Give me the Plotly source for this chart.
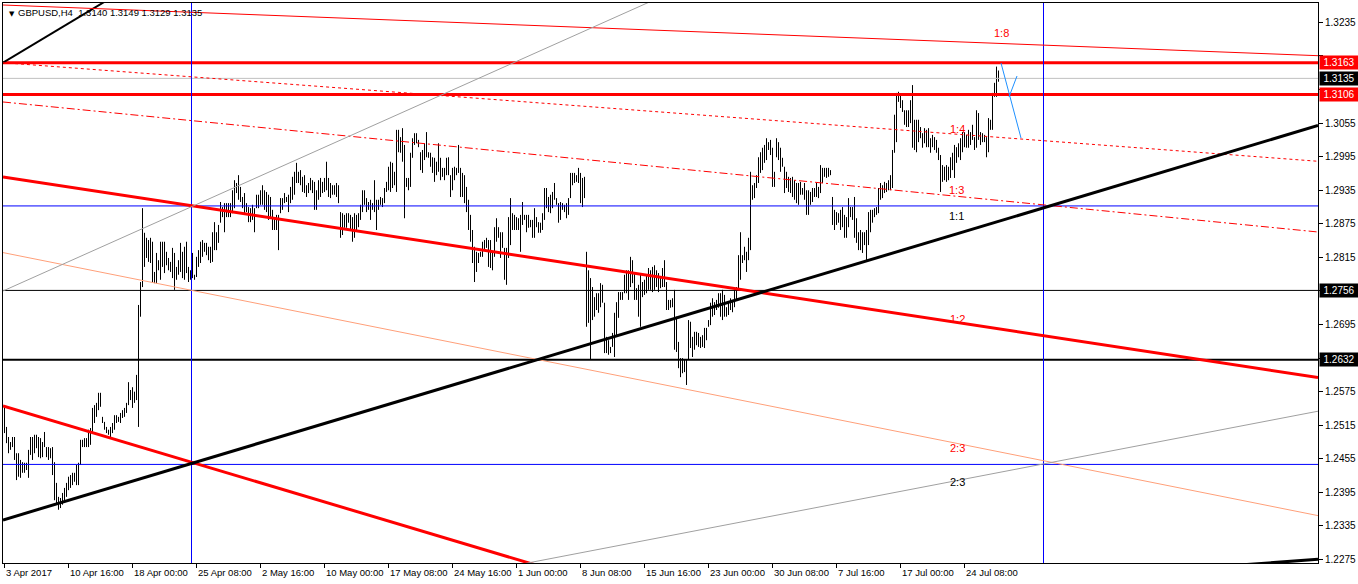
import plotly.graph_objects as go

PIP = 0.0001

# ---- H4 bar highs / lows (in pips: price * 10000), 3 Apr 2017 -> 26 Jul 2017 ----
bar_high = [
    12551, 12512, 12494, 12485, 12494, 12494, 12465, 12465, 12453, 12449,
    12448, 12448, 12471, 12494, 12494, 12498, 12498, 12494, 12492, 12485,
    12503, 12476, 12476, 12474, 12476, 12449, 12412, 12387, 12385, 12394,
    12403, 12412, 12423, 12426, 12430, 12430, 12444, 12448, 12489, 12489,
    12492, 12492, 12507, 12510, 12546, 12551, 12555, 12573, 12573, 12530,
    12521, 12512, 12507, 12512, 12519, 12533, 12533, 12530, 12537, 12542,
    12546, 12555, 12592, 12578, 12583, 12575, 12605, 12730, 12771, 12903,
    12859, 12850, 12846, 12850, 12843, 12789, 12823, 12810, 12843, 12843,
    12843, 12825, 12814, 12807, 12832, 12823, 12798, 12810, 12841, 12825,
    12834, 12843, 12798, 12792, 12823, 12784, 12816, 12828, 12843, 12846,
    12841, 12841, 12834, 12834, 12860, 12878, 12860, 12873, 12914, 12905,
    12912, 12912, 12912, 12912, 12935, 12953, 12948, 12962, 12941, 12923,
    12930, 12912, 12905, 12903, 12909, 12903, 12927, 12927, 12935, 12944,
    12935, 12932, 12927, 12923, 12900, 12887, 12891, 12891, 12921, 12921,
    12930, 12923, 12927, 12941, 12959, 12968, 12984, 12968, 12971, 12959,
    12962, 12944, 12948, 12957, 12953, 12950, 12935, 12953, 12957, 12950,
    12957, 12986, 12957, 12948, 12944, 12944, 12948, 12944, 12896, 12894,
    12891, 12894, 12894, 12891, 12887, 12894, 12891, 12894, 12909, 12935,
    12935, 12921, 12914, 12918, 12912, 12953, 12918, 12918, 12923, 12921,
    12939, 12950, 12977, 12986, 12984, 12968, 13043, 13043, 13030, 13046,
    13016, 12957, 12957, 13002, 13028, 13037, 13037, 13025, 13003, 13007,
    13019, 13039, 13003, 13002, 12994, 12993, 12986, 13019, 12993, 12975,
    12975, 12993, 12994, 12962, 12975, 12977, 12975, 13016, 12975, 12966,
    12962, 12941, 12918, 12891, 12864, 12834, 12825, 12823, 12825, 12843,
    12846, 12850, 12846, 12846, 12825, 12869, 12885, 12869, 12860, 12860,
    12832, 12832, 12887, 12921, 12894, 12891, 12887, 12885, 12891, 12914,
    12891, 12891, 12891, 12882, 12882, 12903, 12887, 12878, 12877, 12894,
    12939, 12939, 12923, 12927, 12932, 12948, 12921, 12912, 12914, 12912,
    12909, 12912, 12921, 12966, 12966, 12966, 12962, 12975, 12966, 12957,
    12959, 12825, 12792, 12778, 12762, 12744, 12751, 12751, 12769, 12766,
    12734, 12673, 12667, 12655, 12680, 12716, 12735, 12753, 12753, 12753,
    12784, 12792, 12792, 12816, 12810, 12787, 12760, 12766, 12787, 12771,
    12775, 12784, 12796, 12792, 12798, 12801, 12792, 12787, 12780, 12796,
    12810, 12771, 12739, 12739, 12742, 12757, 12709, 12664, 12635, 12635,
    12632, 12632, 12703, 12700, 12673, 12682, 12682, 12680, 12673, 12676,
    12689, 12689, 12703, 12734, 12742, 12735, 12739, 12751, 12751, 12757,
    12748, 12726, 12734, 12742, 12739, 12757, 12762, 12819, 12860, 12819,
    12834, 12825, 12850, 12968, 12944, 12948, 12962, 12994, 13003, 13011,
    13016, 13028, 13021, 13025, 13011, 12968, 13028, 13021, 13011, 12993,
    12977, 12968, 12959, 12957, 12959, 12953, 12948, 12948, 12950, 12939,
    12948, 12935, 12935, 12932, 12939, 12939, 12948, 12941, 12980, 12975,
    12975, 12975, 12975, 12971, 12923, 12900, 12896, 12894, 12900, 12905,
    12891, 12887, 12921, 12905, 12905, 12923, 12885, 12860, 12864, 12860,
    12860, 12864, 12896, 12900, 12900, 12903, 12905, 12939, 12948, 12944,
    12950, 12948, 12953, 12962, 13007, 13070, 13109, 13111, 13105, 13096,
    13078, 13078, 13078, 13096, 13123, 13061, 13061, 13061, 13048, 13037,
    13046, 13043, 13046, 13028, 13034, 13030, 13025, 13011, 12998, 12980,
    12977, 12980, 12977, 12994, 13002, 13016, 13012, 13019, 13028, 13039,
    13039, 13034, 13043, 13039, 13052, 13030, 13078, 13073, 13039, 13037,
    13034, 13030, 13064, 13061, 13109, 13127, 13156, 13149,
]
bar_low = [
    12501, 12483, 12465, 12471, 12476, 12453, 12417, 12423, 12421, 12430,
    12430, 12435, 12421, 12462, 12453, 12465, 12474, 12458, 12456, 12458,
    12476, 12458, 12453, 12456, 12426, 12381, 12376, 12364, 12367, 12373,
    12381, 12387, 12399, 12403, 12408, 12414, 12408, 12408, 12444, 12476,
    12476, 12476, 12476, 12480, 12501, 12519, 12530, 12542, 12548, 12519,
    12507, 12501, 12498, 12494, 12501, 12507, 12519, 12521, 12519, 12528,
    12530, 12537, 12551, 12560, 12546, 12555, 12560, 12512, 12709, 12762,
    12798, 12814, 12807, 12805, 12771, 12769, 12769, 12792, 12775, 12798,
    12787, 12801, 12792, 12789, 12778, 12757, 12775, 12784, 12789, 12778,
    12775, 12787, 12771, 12775, 12778, 12775, 12780, 12798, 12805, 12816,
    12825, 12819, 12810, 12805, 12807, 12828, 12828, 12841, 12877, 12887,
    12860, 12887, 12887, 12887, 12894, 12903, 12930, 12918, 12914, 12903,
    12894, 12896, 12878, 12878, 12882, 12860, 12903, 12903, 12909, 12909,
    12900, 12896, 12882, 12887, 12864, 12864, 12864, 12828, 12894, 12900,
    12912, 12914, 12896, 12912, 12918, 12927, 12948, 12948, 12944, 12932,
    12930, 12923, 12930, 12935, 12930, 12900, 12900, 12918, 12923, 12930,
    12932, 12935, 12923, 12921, 12927, 12927, 12923, 12912, 12850, 12855,
    12868, 12868, 12877, 12864, 12843, 12850, 12864, 12869, 12882, 12896,
    12909, 12896, 12900, 12882, 12900, 12896, 12864, 12900, 12909, 12905,
    12912, 12932, 12935, 12932, 12939, 12944, 12932, 13003, 13002, 12986,
    12885, 12941, 12935, 12941, 12993, 13016, 13019, 13012, 12971, 12966,
    12989, 12994, 12993, 12977, 12966, 12950, 12962, 12968, 12953, 12959,
    12953, 12962, 12962, 12923, 12935, 12953, 12962, 12966, 12923, 12923,
    12912, 12896, 12864, 12843, 12805, 12771, 12789, 12805, 12816, 12816,
    12828, 12832, 12798, 12796, 12792, 12816, 12843, 12850, 12814, 12832,
    12775, 12766, 12814, 12837, 12864, 12864, 12864, 12864, 12825, 12873,
    12882, 12860, 12868, 12869, 12850, 12850, 12869, 12859, 12859, 12864,
    12882, 12903, 12896, 12894, 12903, 12918, 12909, 12877, 12882, 12900,
    12896, 12885, 12891, 12921, 12944, 12948, 12950, 12948, 12912, 12905,
    12921, 12691, 12698, 12632, 12703, 12709, 12721, 12716, 12726, 12734,
    12644, 12644, 12641, 12644, 12655, 12637, 12673, 12707, 12739, 12739,
    12751, 12751, 12739, 12762, 12769, 12739, 12739, 12709, 12691, 12744,
    12748, 12751, 12757, 12757, 12753, 12757, 12762, 12753, 12760, 12762,
    12762, 12721, 12721, 12725, 12726, 12650, 12646, 12617, 12601, 12608,
    12610, 12587, 12632, 12653, 12637, 12650, 12658, 12655, 12653, 12655,
    12653, 12667, 12691, 12694, 12709, 12712, 12721, 12725, 12709, 12703,
    12709, 12709, 12712, 12721, 12717, 12726, 12739, 12757, 12775, 12805,
    12810, 12789, 12810, 12828, 12918, 12921, 12939, 12948, 12966, 12971,
    12984, 12989, 13007, 12998, 12941, 12941, 12994, 12989, 12968, 12977,
    12930, 12939, 12932, 12930, 12923, 12918, 12912, 12909, 12927, 12927,
    12918, 12891, 12891, 12909, 12914, 12923, 12923, 12921, 12930, 12948,
    12959, 12957, 12959, 12962, 12873, 12864, 12873, 12877, 12864, 12869,
    12850, 12850, 12869, 12887, 12882, 12850, 12841, 12828, 12828, 12823,
    12837, 12810, 12837, 12860, 12877, 12887, 12891, 12894, 12918, 12921,
    12930, 12932, 12935, 12935, 12939, 13002, 13021, 13093, 13082, 13075,
    13052, 13048, 13048, 13055, 13011, 13007, 13003, 13021, 13028, 13011,
    13019, 13012, 13012, 13002, 13012, 13007, 13002, 12989, 12932, 12950,
    12953, 12950, 12953, 12957, 12971, 12957, 12984, 12994, 12989, 13003,
    13012, 13011, 13011, 13016, 13025, 13007, 13011, 13025, 13016, 13021,
    13021, 12994, 13003, 13043, 13043, 13102, 13102, 13129,
]

# ---- time axis labels (one every 32 H4 bars) ----
tick_bars = [0, 32, 64, 96, 128, 160, 192, 224, 256, 288, 320, 352, 384, 416, 448, 480]
tick_labels = ["3 Apr 2017", "10 Apr 16:00", "18 Apr 00:00", "25 Apr 08:00", "2 May 16:00",
               "10 May 00:00", "17 May 08:00", "24 May 16:00", "1 Jun 00:00", "8 Jun 08:00",
               "15 Jun 16:00", "23 Jun 00:00", "30 Jun 08:00", "7 Jul 16:00", "17 Jul 00:00",
               "24 Jul 08:00"]

# ---- price scale ticks (those under the price tags are left unlabelled) ----
price_ticks = [1.2275, 1.2335, 1.2395, 1.2455, 1.2515, 1.2575, 1.2635, 1.2695, 1.2755,
               1.2815, 1.2875, 1.2935, 1.2995, 1.3055, 1.3115, 1.3175, 1.3235]
price_tick_text = ["1.2275", "1.2335", "1.2395", "1.2455", "1.2515", "1.2575", "", "1.2695", "",
                   "1.2815", "1.2875", "1.2935", "1.2995", "1.3055", "", "", "1.3235"]

# ---- horizontal price levels ----
level_prices = [1.3163, 1.3106, 1.3135, 1.2907, 1.2756, 1.2632, 1.2445]
level_colors = ["#FF0000", "#FF0000", "#C0C0C0", "#0000FF", "#000000", "#000000", "#0000FF"]
level_widths = [3, 3, 1, 1, 1, 2, 1]

# ---- vertical time markers (bar index) ----
vline_bars = [93.5, 519.5]

# ---- Gann fan / trend lines, end points (bar index, price) ----
trend_x0 = [-0.75, -0.75, -0.75, -0.75, -0.75, -0.75, -0.75, -0.75, 197.75, -0.75, 597.75, 498.25, 502.25]
trend_p0 = [1.3163, 1.32661, 1.3163, 1.30928, 1.29587, 1.25496, 1.28236, 1.27550, 1.22250, 1.23457, 1.22600, 1.31624, 1.31017]
trend_x1 = [60.0, 656.75, 656.75, 656.75, 656.75, 297.75, 656.75, 347.75, 656.75, 656.75, 656.75, 508.25, 506.25]
trend_p1 = [1.32933, 1.31755, 1.29868, 1.28604, 1.26004, 1.22309, 1.23535, 1.33119, 1.25401, 1.30508, 1.22754, 1.30284, 1.31392]
trend_colors = ["#000000", "#FF0000", "#FF0000", "#FF0000", "#FF0000", "#FF0000", "#FFA07A",
                "#A0A0A0", "#A0A0A0", "#000000", "#000000", "#1E90FF", "#1E90FF"]
trend_widths = [2, 1, 1, 1, 3, 3, 1, 1, 1, 3, 3, 1, 1]
trend_dash = ["solid", "solid", "3px,3px", "8px,3px,2px,3px", "solid", "solid", "solid",
              "solid", "solid", "solid", "solid", "solid", "solid"]

# ---- fan ratio labels ----
fan_text = ["1:8", "1:4", "1:3", "1:1", "1:2", "2:3", "2:3"]
fan_x = [498.25, 476.6, 475.75, 476.1, 476.25, 476.25, 476.25]
fan_p = [1.32161, 1.30445, 1.29355, 1.28890, 1.27049, 1.24743, 1.24136]
fan_colors = ["#FF0000", "#FF0000", "#FF0000", "#000000", "#FF0000", "#FF0000", "#000000"]

# ---- price tags on the right scale ----
tag_prices = [1.3163, 1.3135, 1.3106, 1.2756, 1.2632]
tag_colors = ["#FF0000", "#000000", "#FF0000", "#000000", "#000000"]

X_RANGE = [-0.75, 656.75]
Y_RANGE = [1.22688, 1.32697]
FONT = "Liberation Sans, Arial, sans-serif"

fig = go.Figure()

# bars: one vertical high-low stroke per H4 bar
bx, by = [], []
for i, (h, l) in enumerate(zip(bar_high, bar_low)):
    bx += [i, i, None]
    by += [l * PIP, h * PIP, None]
fig.add_trace(go.Scatter(x=bx, y=by, mode="lines", line=dict(color="#000000", width=1),
                         hoverinfo="skip", showlegend=False))

# horizontal levels
for p, c, w in zip(level_prices, level_colors, level_widths):
    fig.add_trace(go.Scatter(x=X_RANGE, y=[p, p], mode="lines", line=dict(color=c, width=w),
                             hoverinfo="skip", showlegend=False))

# vertical lines
for vb in vline_bars:
    fig.add_trace(go.Scatter(x=[vb, vb], y=Y_RANGE, mode="lines", line=dict(color="#0000FF", width=1),
                             hoverinfo="skip", showlegend=False))

# trend lines
for x0, p0, x1, p1, c, w, d in zip(trend_x0, trend_p0, trend_x1, trend_p1, trend_colors, trend_widths, trend_dash):
    fig.add_trace(go.Scatter(x=[x0, x1], y=[p0, p1], mode="lines", line=dict(color=c, width=w, dash=d),
                             hoverinfo="skip", showlegend=False))

annotations = []
# fan labels
for t, x, p, c in zip(fan_text, fan_x, fan_p, fan_colors):
    annotations.append(dict(x=x, y=p, xref="x", yref="y", text=t, showarrow=False,
                            font=dict(family=FONT, size=11, color=c), xanchor="center", yanchor="middle"))
# time labels
for b, t in zip(tick_bars, tick_labels):
    annotations.append(dict(x=b, y=0, xref="x", yref="paper", text=t, showarrow=False,
                            font=dict(family=FONT, size=9.5, color="#000000"),
                            xanchor="left", yanchor="top", xshift=-1, yshift=-2))
# price tags
for p, c in zip(tag_prices, tag_colors):
    annotations.append(dict(x=1, y=p, xref="paper", yref="y", text=f"{p:.4f}", showarrow=False,
                            font=dict(family=FONT, size=10, color="#FFFFFF"), bgcolor=c,
                            width=36, height=11, borderpad=1, xanchor="left", yanchor="middle",
                            xshift=1, align="center"))
# header
annotations.append(dict(x=0, y=1, xref="paper", yref="paper", text="\u25BC", showarrow=False,
                        font=dict(family="DejaVu Sans", size=7, color="#000000"),
                        xanchor="left", yanchor="top", xshift=4, yshift=-5))
annotations.append(dict(x=0, y=1, xref="paper", yref="paper",
                        text="GBPUSD,H4  1.3140 1.3149 1.3129 1.3135", showarrow=False,
                        font=dict(family=FONT, size=9.5, color="#000000"),
                        xanchor="left", yanchor="top", xshift=13, yshift=-2))

fig.update_layout(
    width=1358, height=584,
    margin=dict(l=3, r=40, t=3, b=21, pad=0),
    paper_bgcolor="#FFFFFF", plot_bgcolor="#FFFFFF",
    showlegend=False, hovermode=False,
    annotations=annotations,
    xaxis=dict(range=X_RANGE, showgrid=False, zeroline=False, showline=True, mirror=True,
               linecolor="#000000", linewidth=1, ticks="outside", tickvals=tick_bars,
               ticklen=4, tickcolor="#000000", showticklabels=False, automargin=False,
               fixedrange=True),
    yaxis=dict(range=Y_RANGE, side="right", showgrid=False, zeroline=False, showline=True,
               mirror=True, linecolor="#000000", linewidth=1, ticks="outside", ticklen=4,
               tickcolor="#000000", tickvals=price_ticks, ticktext=price_tick_text,
               tickfont=dict(family=FONT, size=10, color="#000000"), automargin=False,
               fixedrange=True),
)

fig.write_html("out.html")
